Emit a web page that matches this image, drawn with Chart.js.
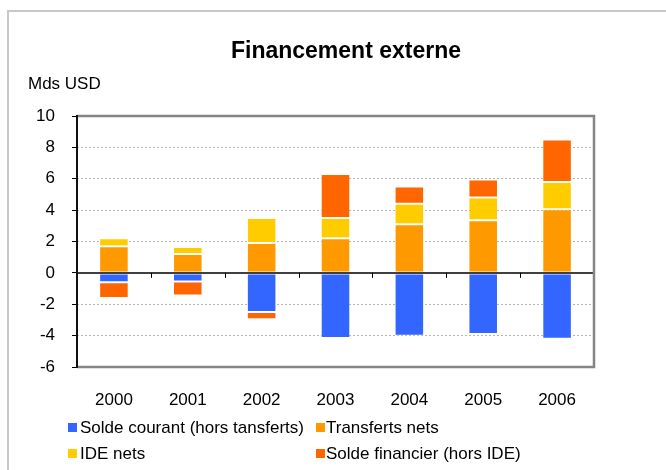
<!DOCTYPE html>
<html>
<head>
<meta charset="utf-8">
<script src="https://cdn.jsdelivr.net/npm/chart.js@4.4.1/dist/chart.umd.min.js"></script>
<style>
  html, body { margin: 0; padding: 0; background: #fff; }
  body { width: 666px; height: 470px; position: relative; overflow: hidden; font-family: "Liberation Sans", Arial, sans-serif; color: #000; }
  #frame { position: absolute; left: 7px; top: 10px; width: 700px; height: 500px; border-top: 2px solid #c8c8c8; border-left: 2px solid #c8c8c8; box-sizing: border-box; }
  #c { position: absolute; left: 0; top: 0; }
  .txt { position: absolute; white-space: nowrap; }
  #title { left: 0; width: 692px; text-align: center; top: 39px; font-size: 23px; line-height: 23px; font-weight: bold; }
  #unit { left: 28px; top: 75px; font-size: 17px; line-height: 17px; }
  .leg { position: absolute; font-size: 17px; line-height: 17px; white-space: nowrap; }
  .sw { position: absolute; width: 9px; height: 9px; }
</style>
</head>
<body>
<div id="frame"></div>
<canvas id="c" width="666" height="470"></canvas>
<div class="txt" id="title">Financement externe</div>
<div class="txt" id="unit">Mds USD</div>
<div id="legend"></div>
<script>
const years = ['2000', '2001', '2002', '2003', '2004', '2005', '2006'];
const seriesNames = ['Solde courant (hors tansferts)', 'Transferts nets', 'IDE nets', 'Solde financier (hors IDE)'];
const soldeCourant = [-0.6, -0.55, -2.5, -4.15, -4.0, -3.9, -4.2];
const transfertsNets = [1.7, 1.2, 1.9, 2.2, 3.1, 3.35, 4.05];
const ideNets = [0.5, 0.45, 1.6, 1.3, 1.3, 1.45, 1.75];
const soldeFinancier = [-1.0, -0.9, -0.45, 2.8, 1.1, 1.15, 2.7];
const colors = ['#3366FF', '#FF9900', '#FFCC00', '#FF6600'];
const yMin = -6, yMax = 10, yStep = 2;

const FONT = '"Liberation Sans", Arial, sans-serif';

const framePlugin = {
  id: 'framePlugin',
  afterDatasetsDraw(chart) {
    const {ctx, chartArea: a, scales: {x, y}} = chart;
    ctx.save();
    const y0 = y.getPixelForValue(0);
    ctx.strokeStyle = '#000';
    ctx.lineWidth = 1.5;
    ctx.beginPath();
    ctx.moveTo(a.left, y0);
    ctx.lineTo(a.right, y0);
    ctx.stroke();
    ctx.lineWidth = 1;
    const n = years.length;
    for (let i = 1; i <= n; i++) {
      const px = Math.round(x.getPixelForValue(i - 0.5)) + 0.5;
      ctx.beginPath();
      ctx.moveTo(px, y0);
      ctx.lineTo(px, y0 + 5);
      ctx.stroke();
    }
    ctx.strokeStyle = '#858585';
    ctx.lineWidth = 2.5;
    ctx.beginPath();
    ctx.moveTo(a.left, a.top);
    ctx.lineTo(a.right, a.top);
    ctx.lineTo(a.right, a.bottom);
    ctx.lineTo(a.left, a.bottom);
    ctx.stroke();
    ctx.strokeStyle = '#111';
    ctx.lineWidth = 2;
    ctx.beginPath();
    ctx.moveTo(a.left, a.top - 1);
    ctx.lineTo(a.left, a.bottom + 1);
    ctx.stroke();
    ctx.restore();
  }
};

const datasets = [soldeCourant, transfertsNets, ideNets, soldeFinancier].map((d, i) => ({
  label: seriesNames[i],
  data: d,
  backgroundColor: colors[i],
  borderColor: 'rgba(255,255,255,0.25)',
  borderWidth: 1,
  borderSkipped: false,
  categoryPercentage: 0.8,
  barPercentage: 0.5
}));

const chart = new Chart(document.getElementById('c'), {
  type: 'bar',
  data: { labels: years, datasets },
  options: {
    responsive: false,
    animation: false,
    layout: { padding: { left: 0, top: 116, right: 72, bottom: 0 } },
    plugins: { legend: { display: false }, title: { display: false }, tooltip: { enabled: false } },
    scales: {
      x: {
        stacked: true,
        grid: { display: false, drawTicks: false },
        border: { display: false },
        ticks: { color: '#000', font: { family: FONT, size: 17 }, padding: 23, maxRotation: 0 },
        afterFit(s) { s.height = 103; }
      },
      y: {
        stacked: true,
        min: yMin, max: yMax,
        ticks: { stepSize: yStep, color: '#000', font: { family: FONT, size: 17 }, padding: 17 },
        grid: {
          color: (c) => (c.tick && (c.tick.value === 0 || c.tick.value === yMin || c.tick.value === yMax)) ? 'rgba(0,0,0,0)' : '#b4b4b4',
          lineWidth: 1,
          tickColor: '#000',
          tickLength: 5,
          drawTicks: true
        },
        border: { display: false, dash: [2, 2] },
        afterFit(s) { s.width = 77; }
      }
    }
  },
  plugins: [framePlugin]
});

const legend = document.getElementById('legend');
const legPos = [
  { sx: 67.5, tx: 80, top: 419 },
  { sx: 316, tx: 326, top: 419 },
  { sx: 67.5, tx: 80, top: 445 },
  { sx: 316, tx: 326, top: 445 }
];
chart.data.datasets.forEach((ds, i) => {
  const p = legPos[i];
  const sw = document.createElement('div');
  sw.className = 'sw';
  sw.style.left = p.sx + 'px';
  sw.style.top = (p.top + 4) + 'px';
  sw.style.background = ds.backgroundColor;
  legend.appendChild(sw);
  const t = document.createElement('div');
  t.className = 'leg';
  t.style.left = p.tx + 'px';
  t.style.top = p.top + 'px';
  t.textContent = ds.label;
  legend.appendChild(t);
});
</script>
</body>
</html>
